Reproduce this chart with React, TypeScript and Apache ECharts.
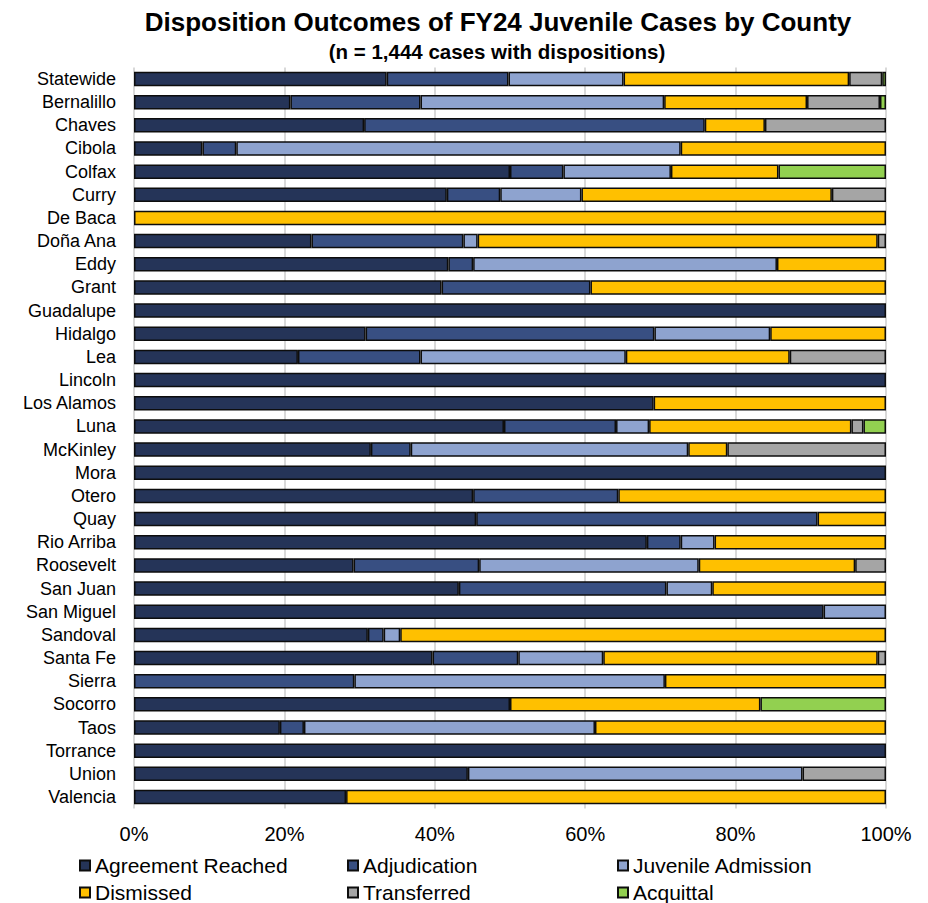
import React, { useEffect, useRef } from "react";
import * as echarts from "echarts";

const counties = [
  "Statewide", "Bernalillo", "Chaves", "Cibola", "Colfax", "Curry", "De Baca", "Doña Ana",
  "Eddy", "Grant", "Guadalupe", "Hidalgo", "Lea", "Lincoln", "Los Alamos", "Luna",
  "McKinley", "Mora", "Otero", "Quay", "Rio Arriba", "Roosevelt", "San Juan", "San Miguel",
  "Sandoval", "Santa Fe", "Sierra", "Socorro", "Taos", "Torrance", "Union", "Valencia",
];

const agreementReached = [
  33.6, 20.8, 30.6, 9.1, 50, 41.6, 0, 23.6,
  41.8, 40.9, 100, 30.8, 21.8, 100, 69.1, 49.2,
  31.5, 100, 45.1, 45.5, 68.2, 29.2, 43.2, 91.7,
  31.1, 39.7, 0, 50, 19.4, 100, 44.4, 28.2,
];
const adjudication = [
  16.2, 17.3, 45.3, 4.5, 7.1, 7.1, 0, 20.2,
  3.3, 19.8, 0, 38.4, 16.3, 0, 0, 14.9,
  5.3, 0, 19.3, 45.4, 4.5, 16.7, 27.6, 0,
  2.1, 11.4, 29.3, 0, 3.2, 0, 0, 0,
];
const juvenileAdmission = [
  15.3, 32.4, 0, 59.1, 14.3, 10.8, 0, 1.9,
  40.4, 0, 0, 15.4, 27.3, 0, 0, 4.4,
  36.9, 0, 0, 0, 4.5, 29.2, 6.1, 8.3,
  2.2, 11.3, 41.3, 0, 38.7, 0, 44.5, 0,
];
const dismissed = [
  30.0, 19.0, 8.0, 27.3, 14.3, 33.3, 100, 53.2,
  14.5, 39.3, 0, 15.4, 21.8, 0, 30.9, 26.9,
  5.2, 0, 35.6, 9.1, 22.8, 20.8, 23.1, 0,
  64.6, 36.5, 29.4, 33.3, 38.7, 0, 0, 71.8,
];
const transferred = [
  4.4, 9.7, 16.1, 0, 0, 7.2, 0, 1.1,
  0, 0, 0, 0, 12.8, 0, 0, 1.6,
  21.1, 0, 0, 0, 0, 4.1, 0, 0,
  0, 1.1, 0, 0, 0, 0, 11.1, 0,
];
const acquittal = [
  0.5, 0.8, 0, 0, 14.3, 0, 0, 0,
  0, 0, 0, 0, 0, 0, 0, 3.0,
  0, 0, 0, 0, 0, 0, 0, 0,
  0, 0, 0, 16.7, 0, 0, 0, 0,
];

const xTicks = [0, 20, 40, 60, 80, 100];

const seriesDefs = [
  { name: "Agreement Reached", data: agreementReached, color: "#253458" },
  { name: "Adjudication", data: adjudication, color: "#384f82" },
  { name: "Juvenile Admission", data: juvenileAdmission, color: "#8ea3cf" },
  { name: "Dismissed", data: dismissed, color: "#ffc000" },
  { name: "Transferred", data: transferred, color: "#a5a5a5" },
  { name: "Acquittal", data: acquittal, color: "#92d050" },
];

const FONT = "'Liberation Sans', Arial, Helvetica, sans-serif";

const legendPos = [
  { left: 79, top: 855 },
  { left: 347, top: 855 },
  { left: 617, top: 855 },
  { left: 79, top: 882 },
  { left: 347, top: 882 },
  { left: 617, top: 882 },
];

export default function App() {
  const ref = useRef<HTMLDivElement>(null);
  useEffect(() => {
    document.body.style.margin = "0";
    if (!ref.current) return;
    const chart = echarts.init(ref.current, undefined, { renderer: "svg" });
    chart.setOption({
      animation: false,
      backgroundColor: "#ffffff",
      textStyle: { fontFamily: FONT },
      title: [
        {
          text: "Disposition Outcomes of FY24 Juvenile Cases by County",
          left: 493,
          top: 4,
          textAlign: "center",
          textStyle: { fontFamily: FONT, fontSize: 26, fontWeight: "bold", color: "#000" },
        },
        {
          text: "(n = 1,444 cases with dispositions)",
          left: 492,
          top: 36,
          textAlign: "center",
          textStyle: { fontFamily: FONT, fontSize: 20.5, fontWeight: "bold", color: "#000" },
        },
      ],
      legend: seriesDefs.map((s, i) => ({
        data: [s.name],
        left: legendPos[i].left,
        top: legendPos[i].top,
        padding: 0,
        itemWidth: 10,
        itemHeight: 10,
        itemGap: 0,
        icon: "rect",
        selectedMode: false,
        textStyle: { fontFamily: FONT, fontSize: 21, color: "#000", padding: [0, 0, 0, 0] },
      })),
      grid: { left: 134, right: 42, top: 67.4, bottom: 94.4, containLabel: false },
      xAxis: {
        type: "value",
        min: xTicks[0],
        max: xTicks[xTicks.length - 1],
        interval: 20,
        axisLine: { show: false },
        axisTick: { show: false },
        splitLine: { show: true, lineStyle: { color: "#d9d9d9", width: 2 } },
        axisLabel: {
          formatter: "{value}%",
          fontFamily: FONT,
          fontSize: 20,
          color: "#000",
          margin: 15,
        },
      },
      yAxis: {
        type: "category",
        data: counties,
        inverse: true,
        axisLine: { show: false },
        axisTick: { show: false },
        axisLabel: { interval: 0, fontFamily: FONT, fontSize: 18, color: "#000", margin: 18 },
      },
      series: seriesDefs.map((s) => ({
        name: s.name,
        type: "bar",
        stack: "total",
        barWidth: 14.5,
        data: s.data.map((v) => (v === 0 ? null : v)),
        itemStyle: { color: s.color, borderColor: "#0d0d0d", borderWidth: 1.5 },
        emphasis: { disabled: true },
      })),
    });
    return () => chart.dispose();
  }, []);
  return <div ref={ref} style={{ width: 928, height: 903 }} />;
}
